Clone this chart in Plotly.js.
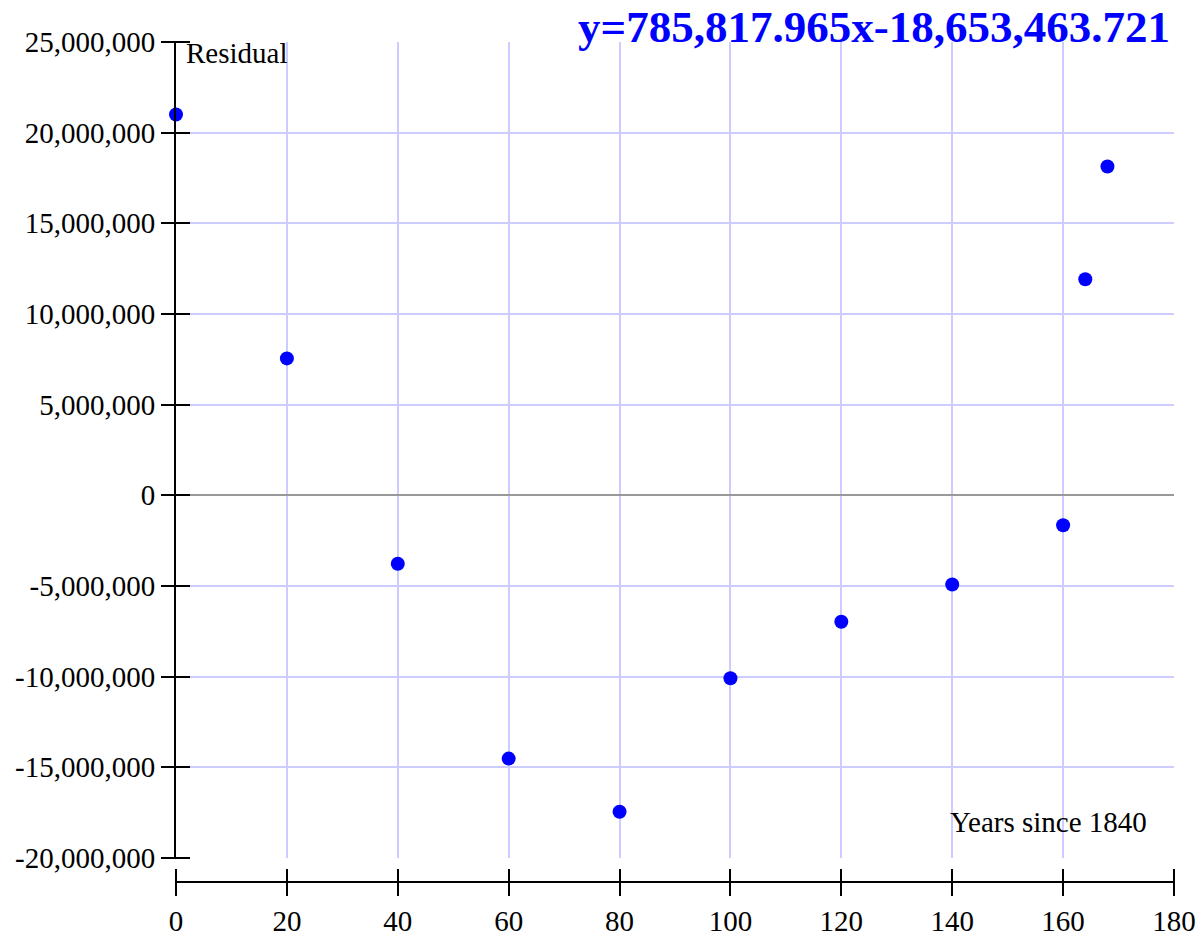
<!DOCTYPE html>
<html>
<head>
<meta charset="utf-8">
<script src="https://cdn.plot.ly/plotly-3.0.1.min.js"></script>
<style>html,body{margin:0;padding:0;background:#fff;}#chart{width:1199px;height:943px;}</style>
</head>
<body>
<div id="chart"></div>
<script>
// Years since 1840
var years = [0, 20, 40, 60, 80, 100, 120, 140, 160, 164, 168];
// Residuals
var residuals = [21000000, 7550000, -3770000, -14520000, -17450000, -10090000, -6970000, -4920000, -1650000, 11920000, 18130000];
var xTicks = [0, 20, 40, 60, 80, 100, 120, 140, 160, 180];
var yTicks = [25000000, 20000000, 15000000, 10000000, 5000000, 0, -5000000, -10000000, -15000000, -20000000];
var yTickText = ["25,000,000", "20,000,000", "15,000,000", "10,000,000", "5,000,000", "0", "-5,000,000", "-10,000,000", "-15,000,000", "-20,000,000"];
var titleText = "y=785,817.965x-18,653,463.721";
var xLabel = "Years since 1840";
var yLabel = "Residual";

var serif = "Liberation Serif, Times New Roman, serif";
var xRange = [0, 180];
var yRange = [-20000000, 25000000];
var yDom = [0.0286, 1];

var traces = [
  {
    x: years, y: residuals, type: "scatter", mode: "markers",
    marker: {color: "#0000ff", size: 14},
    cliponaxis: false,
    xaxis: "x", yaxis: "y", hoverinfo: "x+y", showlegend: false
  },
  {
    x: [xRange[0]], y: [yRange[0]], type: "scatter", mode: "markers",
    marker: {opacity: 0, size: 1}, xaxis: "x2", yaxis: "y",
    hoverinfo: "skip", showlegend: false
  },
  {
    x: [xRange[0]], y: [yRange[0]], type: "scatter", mode: "markers",
    marker: {opacity: 0, size: 1}, xaxis: "x", yaxis: "y2",
    hoverinfo: "skip", showlegend: false
  }
];

var layout = {
  width: 1199, height: 943,
  margin: {l: 176, r: 25, t: 42, b: 61, pad: 0},
  paper_bgcolor: "#ffffff", plot_bgcolor: "#ffffff",
  font: {family: serif, size: 29, color: "#000000"},
  showlegend: false,
  title: {
    text: titleText,
    font: {family: serif, size: 45, color: "#0000ff", weight: "bold"},
    xref: "paper", x: 0.996, xanchor: "right",
    yref: "container", y: 0.972, yanchor: "middle"
  },
  xaxis: {
    range: xRange, tickmode: "array", tickvals: xTicks, ticktext: xTicks.map(String),
    anchor: "free", position: 0,
    showline: true, linecolor: "#000000", linewidth: 2,
    ticks: "outside", ticklen: 13, tickwidth: 2, tickcolor: "#000000",
    showgrid: true, gridcolor: "#ccccff", gridwidth: 2,
    zeroline: false, fixedrange: true,
    tickfont: {family: serif, size: 29, color: "#000000"}
  },
  xaxis2: {
    range: xRange, tickmode: "array", tickvals: xTicks, ticktext: xTicks.map(function(){return "";}),
    overlaying: "x", anchor: "free", position: 0.0167, side: "bottom",
    showline: false, ticks: "outside", ticklen: 27, tickwidth: 2, tickcolor: "#000000",
    showticklabels: true, showgrid: false, zeroline: false, fixedrange: true
  },
  yaxis: {
    range: yRange, domain: yDom, tickmode: "array", tickvals: yTicks, ticktext: yTickText,
    anchor: "x",
    showline: true, linecolor: "#000000", linewidth: 2,
    ticks: "outside", ticklen: 13, tickwidth: 2, tickcolor: "#000000",
    showgrid: true, gridcolor: "#ccccff", gridwidth: 2,
    zeroline: true, zerolinecolor: "#999999", zerolinewidth: 2,
    fixedrange: true,
    tickfont: {family: serif, size: 29, color: "#000000"}
  },
  yaxis2: {
    range: yRange, domain: yDom, tickmode: "array", tickvals: yTicks, ticktext: yTicks.map(function(){return "";}),
    overlaying: "y", anchor: "free", position: 0.01403, side: "left",
    showline: false, ticks: "outside", ticklen: 27, tickwidth: 2, tickcolor: "#000000",
    showticklabels: true, showgrid: false, zeroline: false, fixedrange: true
  },
  annotations: [
    {
      text: yLabel, xref: "paper", yref: "paper", x: 0.008, y: 0.987,
      xanchor: "left", yanchor: "middle", showarrow: false,
      font: {family: serif, size: 29, color: "#000000"}
    },
    {
      text: xLabel, xref: "paper", yref: "paper", x: 0.975, y: 0.0714,
      xanchor: "right", yanchor: "middle", showarrow: false,
      font: {family: serif, size: 29, color: "#000000"}
    }
  ]
};

Plotly.newPlot("chart", traces, layout, {displayModeBar: false, staticPlot: true});
</script>
</body>
</html>
